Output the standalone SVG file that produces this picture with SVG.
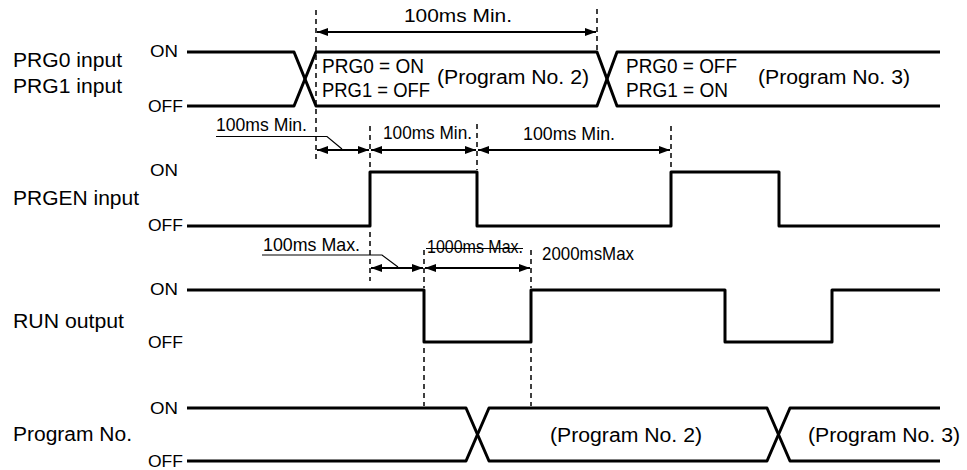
<svg xmlns="http://www.w3.org/2000/svg" width="967" height="470" viewBox="0 0 967 470">
<style>
text{font-family:"Liberation Sans",Arial,sans-serif;fill:#000}
.lbl{font-size:20px}
.lv{font-size:16.5px}
.in{font-size:20px}
.an{font-size:18.5px}
.sig{fill:none;stroke:#000;stroke-width:3;stroke-linejoin:round}
.dash{fill:none;stroke:#000;stroke-width:1.5;stroke-dasharray:5,4}
.arr{fill:none;stroke:#000;stroke-width:1.8;marker-start:url(#ah);marker-end:url(#ah)}
.lead{fill:none;stroke:#000;stroke-width:1.2}
</style>
<defs>
<marker id="ah" markerUnits="userSpaceOnUse" markerWidth="11" markerHeight="8" refX="11" refY="4" orient="auto-start-reverse"><path d="M0,0 L11,4 L0,8 z" fill="#000"/></marker>
</defs>
<rect width="967" height="470" fill="#fff"/>

<g id="labels">
<text class="lbl" x="13" y="67" textLength="109" lengthAdjust="spacingAndGlyphs">PRG0 input</text>
<text class="lbl" x="13" y="93" textLength="109" lengthAdjust="spacingAndGlyphs">PRG1 input</text>
<text class="lbl" x="13" y="205" textLength="126" lengthAdjust="spacingAndGlyphs">PRGEN input</text>
<text class="lbl" x="13" y="328" textLength="111" lengthAdjust="spacingAndGlyphs">RUN output</text>
<text class="lbl" x="13" y="441" textLength="119" lengthAdjust="spacingAndGlyphs">Program No.</text>
<text class="lv" x="150" y="57" textLength="28" lengthAdjust="spacingAndGlyphs">ON</text>
<text class="lv" x="148" y="112" textLength="35" lengthAdjust="spacingAndGlyphs">OFF</text>
<text class="lv" x="150" y="176" textLength="28" lengthAdjust="spacingAndGlyphs">ON</text>
<text class="lv" x="148" y="231" textLength="35" lengthAdjust="spacingAndGlyphs">OFF</text>
<text class="lv" x="150" y="295" textLength="28" lengthAdjust="spacingAndGlyphs">ON</text>
<text class="lv" x="148" y="348" textLength="35" lengthAdjust="spacingAndGlyphs">OFF</text>
<text class="lv" x="150" y="414" textLength="28" lengthAdjust="spacingAndGlyphs">ON</text>
<text class="lv" x="148" y="467" textLength="35" lengthAdjust="spacingAndGlyphs">OFF</text>
</g>

<g id="prg-row">
<path class="sig" d="M187,52 H294 L316,106 H597 L617,52 H940"/>
<path class="sig" d="M187,106 H294 L316,52 H597 L617,106 H940"/>
<text class="in" x="322" y="72.5" textLength="102" lengthAdjust="spacingAndGlyphs">PRG0 = ON</text>
<text class="in" x="322" y="97" textLength="108" lengthAdjust="spacingAndGlyphs">PRG1 = OFF</text>
<text class="in" x="437" y="83.5" textLength="152" lengthAdjust="spacingAndGlyphs">(Program No. 2)</text>
<text class="in" x="626" y="72.5" textLength="111" lengthAdjust="spacingAndGlyphs">PRG0 = OFF</text>
<text class="in" x="626" y="97" textLength="102" lengthAdjust="spacingAndGlyphs">PRG1 = ON</text>
<text class="in" x="758" y="83.5" textLength="152" lengthAdjust="spacingAndGlyphs">(Program No. 3)</text>
</g>

<g id="prgen-row">
<path class="sig" d="M187,226 H370 V172 H477 V226 H671 V172 H779 V226 H940"/>
</g>

<g id="run-row">
<path class="sig" d="M187,290 H424 V342 H531 V290 H725 V342 H832 V290 H940"/>
</g>

<g id="progno-row">
<path class="sig" d="M187,408 H466 L489,461 H767 L790,408 H940"/>
<path class="sig" d="M187,461 H466 L489,408 H767 L790,461 H940"/>
<text class="in" x="550" y="442" textLength="152" lengthAdjust="spacingAndGlyphs">(Program No. 2)</text>
<text class="in" x="808" y="442" textLength="152" lengthAdjust="spacingAndGlyphs">(Program No. 3)</text>
</g>

<g id="connectors">
<path class="dash" d="M316,10 V162"/>
<path class="dash" d="M597,9 V50"/>
<path class="dash" d="M370,126 V170"/>
<path class="dash" d="M477,124 V170"/>
<path class="dash" d="M671,126 V170"/>
<path class="dash" d="M370,232 V281"/>
<path class="dash" d="M424,250 V288"/>
<path class="dash" d="M531,250 V288"/>
<path class="dash" d="M424,348 V406"/>
<path class="dash" d="M531,348 V406"/>

<path class="arr" d="M317,32 H596"/>
<path class="arr" d="M317,150 H369"/>
<path class="arr" d="M371,150 H476"/>
<path class="arr" d="M478,150 H670"/>
<path class="arr" d="M371,268 H423"/>
<path class="arr" d="M425,268 H530"/>

<path class="lead" d="M216,136.5 H327 L342,149"/>
<path class="lead" d="M262,255 H382 L398,267"/>
<path class="lead" d="M426,248.5 H523"/>
</g>

<g id="annotations">
<text class="an" x="404" y="21.5" textLength="108" lengthAdjust="spacingAndGlyphs">100ms Min.</text>
<text class="an" x="216" y="130.5" textLength="91" lengthAdjust="spacingAndGlyphs">100ms Min.</text>
<text class="an" x="383" y="139" textLength="89" lengthAdjust="spacingAndGlyphs">100ms Min.</text>
<text class="an" x="523" y="140" textLength="92" lengthAdjust="spacingAndGlyphs">100ms Min.</text>
<text class="an" x="263" y="250.5" textLength="97" lengthAdjust="spacingAndGlyphs">100ms Max.</text>
<text class="an" x="427" y="253" textLength="96" lengthAdjust="spacingAndGlyphs">1000ms Max.</text>
<text class="an" x="542" y="260" textLength="92" lengthAdjust="spacingAndGlyphs">2000msMax</text>
</g>
</svg>
